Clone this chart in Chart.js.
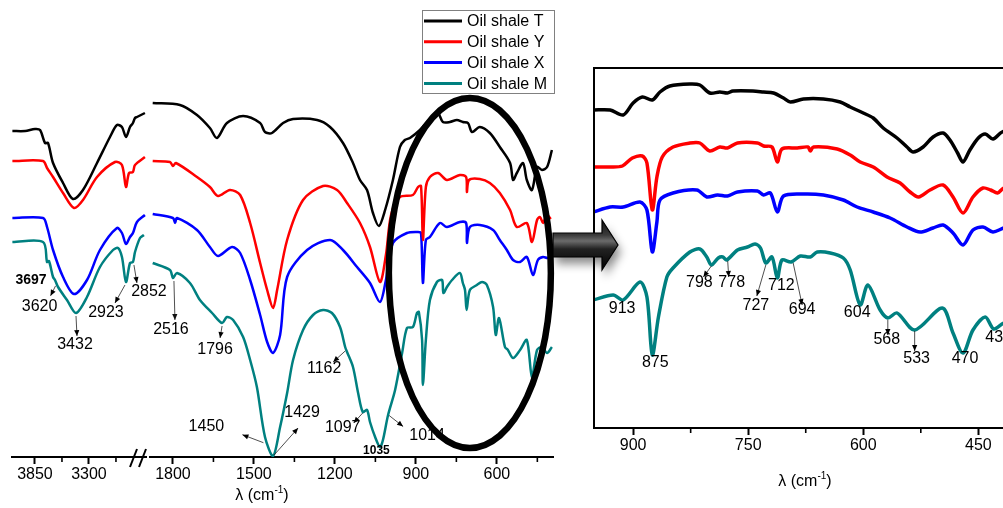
<!DOCTYPE html>
<html>
<head>
<meta charset="utf-8">
<title>FTIR oil shale</title>
<script src="https://cdn.jsdelivr.net/npm/chart.js@4.4.1/dist/chart.umd.min.js"></script>
<style>
  html, body { margin: 0; padding: 0; background: #fff; }
  #wrap { position: relative; width: 1003px; height: 508px; overflow: hidden; background: #fff; }
  canvas { position: absolute; top: 0; }
</style>
</head>
<body>
<div id="wrap">
  <canvas id="left" width="200" height="508" style="left:0px"></canvas>
  <canvas id="right" width="420" height="508" style="left:140px"></canvas>
  <canvas id="zoom" width="500" height="508" style="left:540px"></canvas>
</div>
<script>
const FONT = '"Liberation Sans", Arial, sans-serif';

const samples = ['Oil shale T', 'Oil shale Y', 'Oil shale X', 'Oil shale M'];
const colors = ['#000000', '#ff0000', '#0000ff', '#008080'];

// axis ticks (cm-1); every other one carries a number
const leftTicks = [3850, 3575, 3300, 3025];
const rightTicks = [1800, 1650, 1500, 1350, 1200, 1050, 900, 750, 600, 450];
const zoomTicks = [900, 825, 750, 675, 600, 525, 450];

// full spectra : [wavenumber cm-1, transmittance (a.u., stacked)]
// the null point is the axis break between 2700 and 1900
const specT = [[4080,81.5],[3950,81.5],[3850,82],[3798,81.75],[3748,78.5],[3717,78.5],[3666,73.5],[3564,68.5],[3463,64.5],[3361,66.75],[3218,73.5],[3086,80],[3015,83],[2964,82.5],[2923,80],[2882,82.5],[2852,83.5],[2831,84.75],[2811,85],[2730,86],
  [2300,null],
  [1875,88.5],[1774,88],[1711,85.5],[1663,82.25],[1637,79.75],[1600,83.5],[1540,85.25],[1477,83.5],[1459,81.25],[1433,81],[1392,83.5],[1355,84.5],[1266,84.25],[1218,82.5],[1170,78.5],[1133,73.5],[1107,69.25],[1081,66.75],[1059,61],[1037,57.75],[1014,61.75],[985,69.25],[959,77.5],[941,79.25],[922,79.75],[885,81.75],[837,85.25],[818,86],[800,83.75],[774,83.75],[748,84.25],[726,83.75],[707,83.5],[692,81.25],[663,82.5],[626,81],[589,77.5],[551,73.5],[540,69.25],[526,71],[503,73.5],[489,69.25],[470,66.75],[451,72.5],[433,71.75],[414,72.5],[396,76.75]];

const specY = [[4080,74],[3768,74],[3727,72.25],[3666,70],[3564,66],[3452,62.25],[3361,64.25],[3218,70],[3035,73.75],[2964,73],[2923,67.5],[2892,71],[2852,71.25],[2831,73],[2730,75],
  [2300,null],
  [1875,74],[1811,73.75],[1800,72.75],[1789,73.5],[1711,70],[1663,67.5],[1633,65.25],[1589,66.75],[1551,65.5],[1514,58.5],[1477,48.5],[1451,41.75],[1429,37.25],[1414,41.75],[1377,54.25],[1318,64.25],[1244,67.75],[1192,66.75],[1155,63.5],[1107,58.5],[1070,52.5],[1033,43.75],[1011,50.5],[992,60.5],[959,65],[911,65.5],[892,67.5],[881,67.75],[874,54.25],[863,67.5],[848,70],[818,71],[785,69.25],[737,70.5],[714,70],[711,66.25],[703,69.25],[663,69.5],[626,68.5],[589,66],[551,61.75],[526,57.5],[489,58.5],[470,53.75],[451,59.25],[440,60],[429,58.5],[414,60.5],[400,59.5]];

const specX = [[4080,59.75],[3768,59.75],[3727,57.5],[3666,51.75],[3564,45],[3452,40.75],[3320,44.25],[3188,51.75],[3015,57.25],[2964,56],[2923,53.25],[2882,55],[2852,56],[2811,58.75],[2730,60.5],
  [2300,null],
  [1875,60.75],[1800,59.75],[1792,58.5],[1785,59.75],[1711,56.75],[1663,52.5],[1633,50.25],[1581,52.5],[1551,51],[1514,44.25],[1477,35.5],[1451,28.75],[1429,26],[1403,30.5],[1377,45],[1303,51.75],[1218,54.25],[1170,51.75],[1118,47.5],[1070,43.5],[1033,38.75],[1011,44.25],[985,53.5],[933,56],[892,56.25],[881,56],[874,43.5],[863,54.25],[848,55],[811,58.5],[785,57.5],[737,58.75],[714,58.5],[711,53.5],[700,57.5],[663,58],[614,56.75],[589,54.25],[563,51.75],[540,49.25],[514,48.75],[489,50],[466,45.5],[448,49.25],[429,50],[411,49.75],[400,50.5]];

const specM = [[4080,53.75],[3768,53.75],[3727,48.75],[3707,49],[3666,45],[3646,44.25],[3615,42.5],[3524,39.25],[3432,36],[3320,40],[3188,47.5],[3055,51.75],[3004,52.25],[2964,50],[2923,43.75],[2882,48.5],[2852,48.75],[2831,51.25],[2780,54.75],[2740,55.5],
  [2300,null],
  [1875,48.5],[1811,46.75],[1800,44.75],[1785,46],[1737,43.5],[1700,39.25],[1655,36],[1618,33.5],[1600,35],[1577,34.25],[1540,30],[1514,24.25],[1489,17.5],[1459,5],[1429,0.25],[1403,7.5],[1377,16],[1355,24.25],[1318,31.75],[1281,35.5],[1244,36.75],[1211,36],[1181,32.5],[1162,27.5],[1155,26.25],[1133,22.5],[1114,16],[1097,11.25],[1081,11.75],[1070,8.75],[1051,5],[1033,2.5],[1022,4.25],[1003,10.5],[977,16.75],[951,26],[933,32.25],[911,32.5],[896,36],[889,36.25],[877,29.25],[874,18],[863,29.25],[848,39.25],[822,43.75],[803,44.25],[798,41],[785,42.5],[766,44.25],[737,46],[726,43.5],[718,41.75],[712,36.75],[700,41.75],[674,43],[655,43.75],[637,43],[614,37.5],[604,30.5],[592,34.75],[570,27.5],[559,26.75],[540,24.75],[514,26.75],[489,29.25],[470,20],[451,26.75],[433,27.5],[414,26],[396,27.5]];

// 950-400 cm-1 region, expanded
const zoomT = [[952,79.5],[930,79.5],[913,78.25],[900,81.25],[888,82.75],[875,82],[865,84],[852,85.5],[826,86],[813,85.75],[800,83.75],[787,84],[777,83.75],[770,84.25],[744,84.25],[730,84],[717,83.75],[704,82.5],[695,81.5],[678,82.25],[652,82.25],[630,81.5],[617,80.25],[600,78.75],[587,77.5],[574,75],[556,72.5],[543,70.25],[535,69],[522,70.25],[509,72.75],[496,73.75],[487,72],[477,68.75],[470,66.5],[461,69.5],[450,72.5],[441,73.5],[431,72.25],[419,74],[397,75]];

const zoomY = [[952,65.25],[930,65.25],[914,65.5],[901,67.5],[888,68],[882,66.25],[875,54.5],[869,62.75],[862,67.75],[848,70.25],[826,71.25],[813,71.25],[800,69.25],[787,70.25],[777,70],[764,71.25],[738,71.25],[730,70.5],[719,70.25],[712,66.5],[706,69.75],[686,70],[672,70.25],[669,69.25],[665,70.25],[634,69.75],[617,68.25],[604,66.5],[587,65.25],[569,62.75],[552,61.25],[539,59],[528,57.75],[513,59.5],[496,60.75],[483,57.75],[470,53.75],[457,57.75],[444,60],[434,59.5],[425,58.75],[417,60],[397,61]];

const zoomX = [[952,54],[930,55.25],[913,55.25],[891,56.5],[882,54.5],[875,44],[869,51.5],[865,57],[848,58.75],[817,59.5],[804,57.75],[790,58.25],[777,58],[764,59],[738,59.25],[730,58.25],[721,58.75],[712,54],[704,58],[678,58.5],[652,58.25],[626,57],[608,55.25],[587,54],[565,52.5],[543,50.25],[526,49],[509,50],[496,50.75],[483,48.75],[470,45.75],[457,49.5],[444,50.25],[431,49],[417,50],[397,51]];

const zoomM = [[952,32],[926,33.25],[913,32],[891,36.5],[882,32.75],[875,18.25],[867,27.75],[856,37.75],[848,40],[826,44],[813,44.75],[804,42.75],[798,40.75],[789,42.5],[783,42.75],[778,42],[764,44.5],[751,45.25],[741,46],[734,45],[727,41.25],[719,42.75],[712,37.5],[706,42],[694,41.5],[682,43],[669,42.75],[660,44],[643,43.75],[626,42.5],[617,39.5],[604,30.75],[594,35.75],[578,29.5],[568,27.5],[556,28.75],[533,24.5],[497,30],[483,23.75],[470,18.75],[457,24.5],[441,27.75],[430,24.75],[417,26.25],[397,27.5]];

// assigned bands (cm-1)
const leftPeakLabels = [3697, 3620, 3432, 2923, 2852];
const rightPeakLabels = [2516, 1796, 1450, 1429, 1162, 1097, 1035, 1014];
const zoomPeakLabels = [913, 875, 798, 778, 727, 712, 694, 604, 568, 533, 470, 430];

// label placement: at = band the pointer touches (default: the label), dx/dy = text offset,
// arrow = [x1, y1, x2, y2] offsets from the band point
const leftPeakStyle = {
  3697: { dx: -19, dy: 15, bold: 14 },
  3620: { dx: -18, dy: 21, arrow: [-2, 0, -7, 10] },
  3432: { dx: -1, dy: 32, arrow: [0, 3, 1, 23] },
  2923: { dx: -20, dy: 31, arrow: [-1, 3, -11, 21] },
  2852: { dx: 16, dy: 30, arrow: [1, 3, 4, 21] }
};
const rightPeakStyle = {
  2516: { at: 1800, dx: -2, dy: 52, arrow: [1, 3, 2, 42] },
  1796: { at: 1618, dx: -7, dy: 27, arrow: [0, 3, -2, 15] },
  1450: { dx: -61, dy: -16, arrow: [-4, 0, -25, -8] },
  1429: { dx: 29, dy: -43, arrow: [1, -1, 25, -28] },
  1162: { dx: -21, dy: 22, arrow: [0, 4, -12, 15] },
  1097: { dx: -20, dy: 16, arrow: [0, 1, -9, 11] },
  1035: { dx: -3, dy: 5, bold: 12 },
  1014: { dx: 42, dy: 6, arrow: [4, -14, 18, -3] }
};
const zoomPeakStyle = {
  913: { dx: -1, dy: 9 },
  875: { dx: 3, dy: 8 },
  798: { dx: -12, dy: 18, arrow: [0, 1, -8, 12] },
  778: { dx: 5, dy: 23, arrow: [1, 1, 2, 17] },
  727: { dx: -10, dy: 43, arrow: [0, 2, -9, 33] },
  712: { dx: 4, dy: 8 },
  694: { dx: 11, dy: 48, arrow: [2, 1, 11, 43] },
  604: { dx: -3, dy: 8 },
  568: { dx: -1, dy: 22, arrow: [0, 2, 0, 17] },
  533: { dx: 2, dy: 29, arrow: [0, 1, 0, 21] },
  470: { dx: 2, dy: 6 },
  430: { dx: 5, dy: 9 }
};

Chart.defaults.font.family = FONT;
Chart.defaults.color = '#000';

// y of a spectrum at a given wavenumber (straight interpolation between read points)
function valueAt(series, wn) {
  for (let i = 0; i < series.length - 1; i++) {
    const [x1, y1] = series[i], [x2, y2] = series[i + 1];
    if (y1 == null || y2 == null) continue;
    if (wn <= x1 && wn >= x2) return y1 + (y2 - y1) * (x1 - wn) / (x1 - x2);
  }
  return 0;
}

function arrow(ctx, x1, y1, x2, y2) {
  ctx.beginPath();
  ctx.moveTo(x1, y1);
  ctx.lineTo(x2, y2);
  ctx.stroke();
  const a = Math.atan2(y2 - y1, x2 - x1), L = 6, W = 2.6;
  ctx.beginPath();
  ctx.moveTo(x2, y2);
  ctx.lineTo(x2 - L * Math.cos(a) + W * Math.sin(a), y2 - L * Math.sin(a) - W * Math.cos(a));
  ctx.lineTo(x2 - L * Math.cos(a) - W * Math.sin(a), y2 - L * Math.sin(a) + W * Math.cos(a));
  ctx.closePath();
  ctx.fill();
}

function unitTitle(ctx, cx, cy, size) {
  const big = size + 'px ' + FONT, small = Math.round(size * 0.62) + 'px ' + FONT;
  ctx.save();
  ctx.fillStyle = '#000';
  ctx.textAlign = 'left';
  ctx.textBaseline = 'alphabetic';
  ctx.font = big;
  const w1 = ctx.measureText('λ (cm').width, w3 = ctx.measureText(')').width;
  ctx.font = small;
  const w2 = ctx.measureText('-1').width;
  let x = cx - (w1 + w2 + w3) / 2;
  const base = cy + size * 0.36;
  ctx.font = big; ctx.fillText('λ (cm', x, base); x += w1;
  ctx.font = small; ctx.fillText('-1', x, base - size * 0.42); x += w2;
  ctx.font = big; ctx.fillText(')', x, base);
  ctx.restore();
}

function makeDatasets(list, width) {
  return samples.map((name, i) => ({
    label: name,
    data: list[i],
    borderColor: colors[i],
    backgroundColor: colors[i],
    borderWidth: width,
    pointRadius: 0,
    tension: 0.3,
    spanGaps: false,
    fill: false
  }));
}

function xAxis(min, max, tickValues, major, fontSize, height) {
  return {
    type: 'linear',
    reverse: true,
    min: min,
    max: max,
    afterFit: s => { s.height = height; },
    afterBuildTicks: s => { s.ticks = tickValues.map(v => ({ value: v })); },
    border: { display: true, color: '#000', width: 2 },
    grid: {
      drawOnChartArea: false,
      drawTicks: true,
      tickLength: 7,
      tickWidth: 2,
      tickColor: c => (c.tick && c.tick.value % major === 0) ? '#000' : 'rgba(0,0,0,0)'
    },
    ticks: {
      autoSkip: false,
      maxRotation: 0,
      padding: 1,
      color: '#000',
      font: { size: fontSize },
      callback: v => (v % major === 0 ? String(v) : '')
    }
  };
}

// short unlabeled ticks between the numbered ones
function minorTicks(major) {
  return {
    id: 'minorTicks',
    afterDraw(chart) {
      const ctx = chart.ctx, sc = chart.scales.x, y0 = chart.chartArea.bottom;
      ctx.save();
      ctx.strokeStyle = '#000';
      ctx.lineWidth = 1.6;
      sc.ticks.forEach(t => {
        if (t.value % major === 0) return;
        const x = sc.getPixelForValue(t.value);
        ctx.beginPath();
        ctx.moveTo(x, y0);
        ctx.lineTo(x, y0 + 5);
        ctx.stroke();
      });
      ctx.restore();
    }
  };
}

function peakPlugin(labels, style, series) {
  return {
    id: 'peaks',
    afterDatasetsDraw(chart) {
      const { ctx, scales } = chart;
      ctx.save();
      ctx.fillStyle = '#111';
      ctx.strokeStyle = '#222';
      ctx.lineWidth = 0.8;
      ctx.textAlign = 'center';
      ctx.textBaseline = 'middle';
      labels.forEach(p => {
        const s = style[p];
        const wn = s.at || p;
        const px = scales.x.getPixelForValue(wn);
        const py = scales.y.getPixelForValue(valueAt(series, wn));
        if (s.arrow) arrow(ctx, px + s.arrow[0], py + s.arrow[1], px + s.arrow[2], py + s.arrow[3]);
        ctx.font = s.bold ? 'bold ' + s.bold + 'px ' + FONT : '16px ' + FONT;
        ctx.fillStyle = '#000';
        ctx.fillText(String(p), px + s.dx, py + s.dy);
      });
      ctx.restore();
    }
  };
}

const breakMarks = {
  id: 'breakMarks',
  afterDraw(chart) {
    const ctx = chart.ctx;
    ctx.save();
    ctx.strokeStyle = '#000';
    ctx.lineWidth = 2;
    [[130, 137], [139, 146]].forEach(([a, b]) => {
      ctx.beginPath();
      ctx.moveTo(a, 467);
      ctx.lineTo(b, 449);
      ctx.stroke();
    });
    ctx.restore();
  }
};

// ellipse round the 950-400 region, drawn over the labels
const focusRing = {
  id: 'focusRing',
  afterDatasetsDraw(chart) {
    const { ctx, scales } = chart;
    const cx = scales.x.getPixelForValue(700), cy = scales.y.getPixelForValue(46);
    ctx.save();
    ctx.strokeStyle = '#000';
    ctx.lineWidth = 6.5;
    ctx.beginPath();
    ctx.ellipse(cx, cy, 81, 175, 0, 0, Math.PI * 2);
    ctx.stroke();
    ctx.restore();
  }
};

const boxLegend = {
  id: 'boxLegend',
  afterDraw(chart) {
    const ctx = chart.ctx;
    const x0 = 282, y0 = 10, w = 132, h = 83;
    ctx.save();
    ctx.fillStyle = '#fff';
    ctx.fillRect(x0, y0, w, h);
    ctx.strokeStyle = '#808080';
    ctx.lineWidth = 1;
    ctx.strokeRect(x0 + 0.5, y0 + 0.5, w, h);
    ctx.font = '16px ' + FONT;
    ctx.textAlign = 'left';
    ctx.textBaseline = 'middle';
    chart.data.datasets.forEach((ds, i) => {
      const y = y0 + 11 + i * 20.8;
      ctx.strokeStyle = ds.borderColor;
      ctx.lineWidth = 3;
      ctx.beginPath();
      ctx.moveTo(x0 + 2, y);
      ctx.lineTo(x0 + 40, y);
      ctx.stroke();
      ctx.fillStyle = '#000';
      ctx.fillText(ds.label, x0 + 45, y + 1);
    });
    ctx.restore();
    unitTitle(ctx, 122, 494, 16);
  }
};

const zoomFrame = {
  id: 'zoomFrame',
  afterDraw(chart) {
    const ctx = chart.ctx, a = chart.chartArea;
    ctx.save();
    ctx.strokeStyle = '#000';
    ctx.lineWidth = 2;
    ctx.beginPath();
    ctx.moveTo(a.left, a.bottom);
    ctx.lineTo(a.left, a.top);
    ctx.lineTo(a.right, a.top);
    ctx.lineTo(a.right, a.bottom);
    ctx.stroke();

    // block arrow pointing from the ellipse to the expanded panel
    const L = a.left;
    ctx.beginPath();
    ctx.moveTo(L - 41, 233);
    ctx.lineTo(L + 8, 233);
    ctx.lineTo(L + 8, 220);
    ctx.lineTo(L + 24, 245);
    ctx.lineTo(L + 8, 270);
    ctx.lineTo(L + 8, 257);
    ctx.lineTo(L - 41, 257);
    ctx.closePath();
    const g = ctx.createLinearGradient(0, 220, 0, 270);
    g.addColorStop(0, '#111');
    g.addColorStop(0.3, '#3a3a3a');
    g.addColorStop(0.42, '#6b6b6b');
    g.addColorStop(0.58, '#222');
    g.addColorStop(1, '#000');
    ctx.shadowColor = 'rgba(0,0,0,0.45)';
    ctx.shadowBlur = 10;
    ctx.shadowOffsetX = 3;
    ctx.shadowOffsetY = 7;
    ctx.fillStyle = g;
    ctx.fill();
    ctx.shadowColor = 'rgba(0,0,0,0)';
    ctx.lineWidth = 1.2;
    ctx.stroke();
    ctx.restore();
    unitTitle(ctx, 265, 480, 16);
  }
};

function baseOptions(padding, xScale, yMax) {
  return {
    responsive: false,
    animation: false,
    events: [],
    layout: { padding: padding },
    plugins: { legend: { display: false }, tooltip: { enabled: false } },
    scales: { x: xScale, y: { display: false, min: 0, max: yMax } }
  };
}

const mainSeries = [specT, specY, specX, specM];
const zoomSeries = [zoomT, zoomY, zoomX, zoomM];

// 4000-2700 part of the broken axis
new Chart(document.getElementById('left'), {
  type: 'line',
  data: { datasets: makeDatasets(mainSeries, 2.5) },
  options: baseOptions({ left: 12, right: 54, top: 57, bottom: 0 },
    xAxis(2719, 4084, leftTicks, 550, 16, 51), 100),
  plugins: [minorTicks(550), peakPlugin(leftPeakLabels, leftPeakStyle, specM), breakMarks]
});

// 1900-400 part
new Chart(document.getElementById('right'), {
  type: 'line',
  data: { datasets: makeDatasets(mainSeries, 2.5) },
  options: baseOptions({ left: 10, right: 7, top: 57, bottom: 0 },
    xAxis(392, 1885, rightTicks, 300, 16, 51), 100),
  plugins: [minorTicks(300), peakPlugin(rightPeakLabels, rightPeakStyle, specM), focusRing, boxLegend]
});

// expanded 950-400 panel
new Chart(document.getElementById('zoom'), {
  type: 'line',
  data: { datasets: makeDatasets(zoomSeries, 3.5) },
  options: baseOptions({ left: 54, right: 21, top: 68, bottom: 0 },
    xAxis(397, 951, zoomTicks, 150, 16, 80), 90),
  plugins: [minorTicks(150), peakPlugin(zoomPeakLabels, zoomPeakStyle, zoomM), zoomFrame]
});
</script>
</body>
</html>
